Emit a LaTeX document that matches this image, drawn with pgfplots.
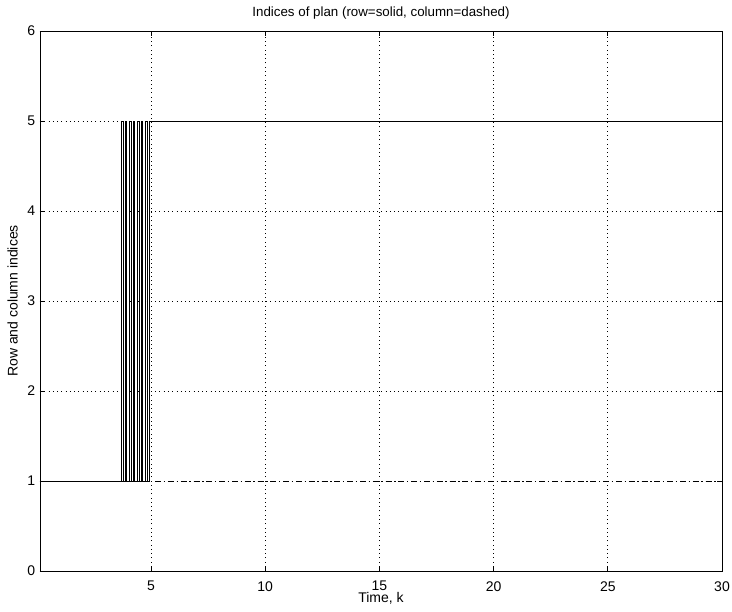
\documentclass[border=0pt]{standalone}
\usepackage{fontspec}
\setmainfont{Liberation Sans}
\usepackage{pgfplots}
\pgfplotsset{compat=1.18}
\begin{document}
\fontsize{10.5}{12}\selectfont
\begin{tikzpicture}
\begin{axis}[
  scale only axis,
  width=511.5pt, height=405pt,
  xmin=0.14, xmax=30, ymin=0, ymax=6,
  xtick={5,10,15,20,25,30},
  ytick={0,1,2,3,4,5,6},
  tick align=inside,
  major tick length=4pt,
  tick style={black, line width=0.5pt},
  axis line style={line width=0.6pt},
  grid=major,
  grid style={black, line width=0.5pt, dash pattern=on 0.6pt off 2.6pt},
  /pgf/number format/assume math mode=true,
  ticklabel style={font=\fontsize{10.5}{12}\selectfont},
  xticklabel style={yshift=-4pt},
  title={Indices of plan (row=solid, column=dashed)},
  title style={font=\fontsize{10}{12}\selectfont, at={(0.5,1)}, yshift=-1pt},
  xlabel={Time, k},
  ylabel={Row and column indices},
  label style={font=\fontsize{10.5}{12}\selectfont},
  xlabel style={yshift=6pt},
  ylabel style={yshift=0pt},
]
% column index (dash-dot)
\addplot[black, line width=0.5pt, dash pattern=on 4.5pt off 2.2pt on 0.7pt off 2.2pt] coordinates {
 (0.14,1) (30,1)
};
% row index (solid)
\addplot[black, line width=0.5pt] coordinates {
 (0.14,1) (3.69,1) (3.69,5) (3.77,5) (3.77,1)
 (3.86,1) (3.86,5) (3.94,5) (3.94,1)
 (4.04,1) (4.04,5) (4.12,5) (4.12,1)
 (4.21,1) (4.21,5) (4.29,5) (4.29,1)
 (4.39,1) (4.39,5) (4.47,5) (4.47,1)
 (4.56,1) (4.56,5) (4.64,5) (4.64,1)
 (4.74,1) (4.74,5) (4.82,5) (4.82,1)
 (4.91,1) (4.91,5) (30,5)
};
\end{axis}
\pgfresetboundingbox
\path[use as bounding box] (-30pt,-30pt) rectangle (519pt,428.25pt);
\end{tikzpicture}
\end{document}
